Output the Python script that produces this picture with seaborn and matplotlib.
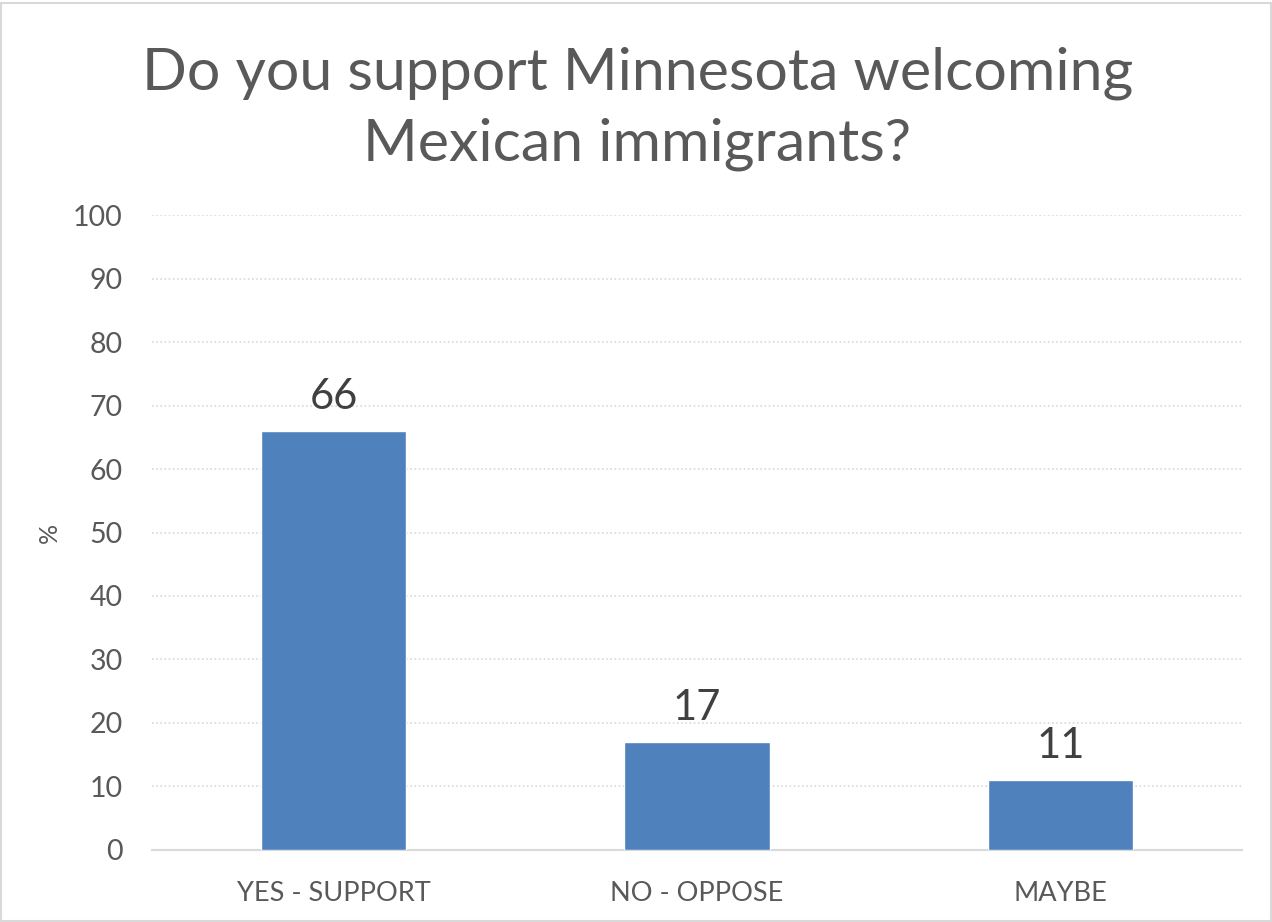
import matplotlib
matplotlib.use("Agg")
import matplotlib.pyplot as plt
import seaborn as sns
import pandas as pd

categories = ["YES - SUPPORT", "NO - OPPOSE", "MAYBE"]
values = [66, 17, 11]
yticks = [0, 10, 20, 30, 40, 50, 60, 70, 80, 90, 100]

title = "Do you support Minnesota welcoming\nMexican immigrants?"
ylabel = "%"

sns.set_theme(style="white")
plt.rcParams["font.family"] = ["Lato", "DejaVu Sans"]

df = pd.DataFrame({"category": categories, "value": values})

fig = plt.figure(figsize=(12.72, 9.22), dpi=100)
ax = fig.add_axes([0.1195, 0.0781, 0.8569, 0.6887])

sns.barplot(data=df, x="category", y="value", color="#4F81BD", width=0.4,
            saturation=1, ax=ax, zorder=3)

ax.set_ylim(0, 100)
ax.set_yticks(yticks)
ax.set_xlim(-0.5, len(categories) - 0.5)
ax.yaxis.grid(True, linestyle=(0, (1, 1.5)), color="#D9D9D9", linewidth=1.2, zorder=0)
ax.xaxis.grid(False)
for side in ["left", "right", "top"]:
    ax.spines[side].set_visible(False)
ax.spines["bottom"].set_color("#D9D9D9")
ax.spines["bottom"].set_linewidth(1.5)

ax.tick_params(axis="y", labelsize=20.5, colors="#595959", length=0, pad=21)
ax.tick_params(axis="x", labelsize=19.5, colors="#595959", length=0, pad=22)
ax.set_xlabel("")
ax.set_ylabel(ylabel, fontsize=18, color="#595959", va="center")
ax.yaxis.set_label_coords(-0.094, 0.5)

for patch, v in zip(ax.patches, values):
    ax.annotate(f"{v:.0f}", (patch.get_x() + patch.get_width() / 2, v),
                xytext=(0, 11), textcoords="offset points",
                ha="center", va="bottom", fontsize=30, color="#404040")

fig.text(0.501, 0.882, title, ha="center", va="center", fontsize=42.5,
         color="#595959", linespacing=1.4)

# thin frame around the whole chart area
fig.patches.append(plt.Rectangle((0.001, 0.001), 0.998, 0.996, transform=fig.transFigure,
                                 fill=False, edgecolor="#D9D9D9", linewidth=1.5))

fig.savefig("out.png", dpi=100, facecolor="white")
